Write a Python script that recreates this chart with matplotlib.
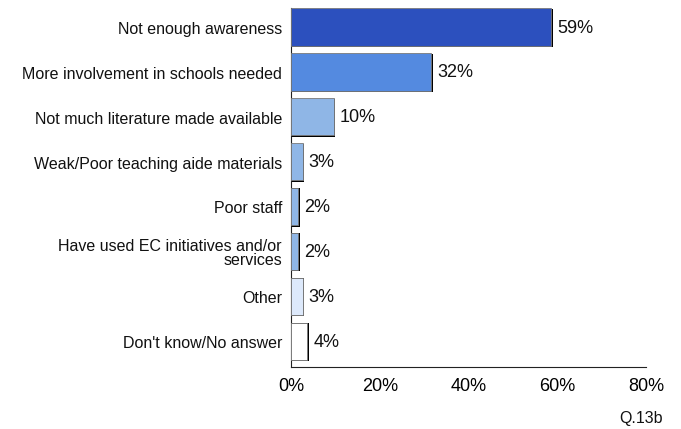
import matplotlib
matplotlib.use("Agg")
import matplotlib.pyplot as plt
from matplotlib.ticker import FuncFormatter

categories = [
    "Not enough awareness",
    "More involvement in schools needed",
    "Not much literature made available",
    "Weak/Poor teaching aide materials",
    "Poor staff",
    "Have used EC initiatives and/or\nservices",
    "Other",
    "Don't know/No answer",
]
values = [59, 32, 10, 3, 2, 2, 3, 4]
colors = ["#2c50be", "#548ae0", "#8fb6e6", "#8fb6e6", "#8fb6e6", "#8fb6e6",
          "#dde9fb", "#ffffff"]
xticks = [0, 20, 40, 60, 80]

plt.rcParams["font.family"] = ["Liberation Sans", "DejaVu Sans"]

fig = plt.figure(figsize=(6.81, 4.29), dpi=100)
ax = fig.add_axes([291 / 681, 1 - 367 / 429, 355 / 681, 359 / 429])

bar_h = 0.85
for i, (v, c) in enumerate(zip(values, colors)):
    # dark drop edge on the right and bottom
    ax.barh(i, v, height=bar_h, left=0, color="black", zorder=2)
    ax.barh(i - 0.02, v - 0.35, height=bar_h - 0.02, left=0, color=c,
            edgecolor="#7a7a7a", linewidth=0.6, zorder=3)
    ax.text(v + 1.0, i, f"{v}%", va="center", ha="left", fontsize=13,
            color="#111111")

ax.set_xlim(0, 80)
ax.set_ylim(7.557, -0.446)
ax.set_yticks(range(len(categories)))
ax.set_yticklabels(categories, fontsize=11.5, color="#111111",
                   linespacing=0.95)
ax.set_xticks(xticks)
ax.xaxis.set_major_formatter(FuncFormatter(lambda x, p: f"{x:.0f}%"))
ax.tick_params(axis="x", length=0, labelsize=13, pad=8)
ax.tick_params(axis="y", length=0, pad=6.5)
for s in ["top", "right"]:
    ax.spines[s].set_visible(False)
ax.spines["left"].set_color("#222222")
ax.spines["bottom"].set_color("#222222")

fig.text(663 / 681, 1 - 419 / 429, "Q.13b", ha="right", va="center",
         fontsize=11.5, color="#111111")

fig.savefig("out.png", dpi=100)
